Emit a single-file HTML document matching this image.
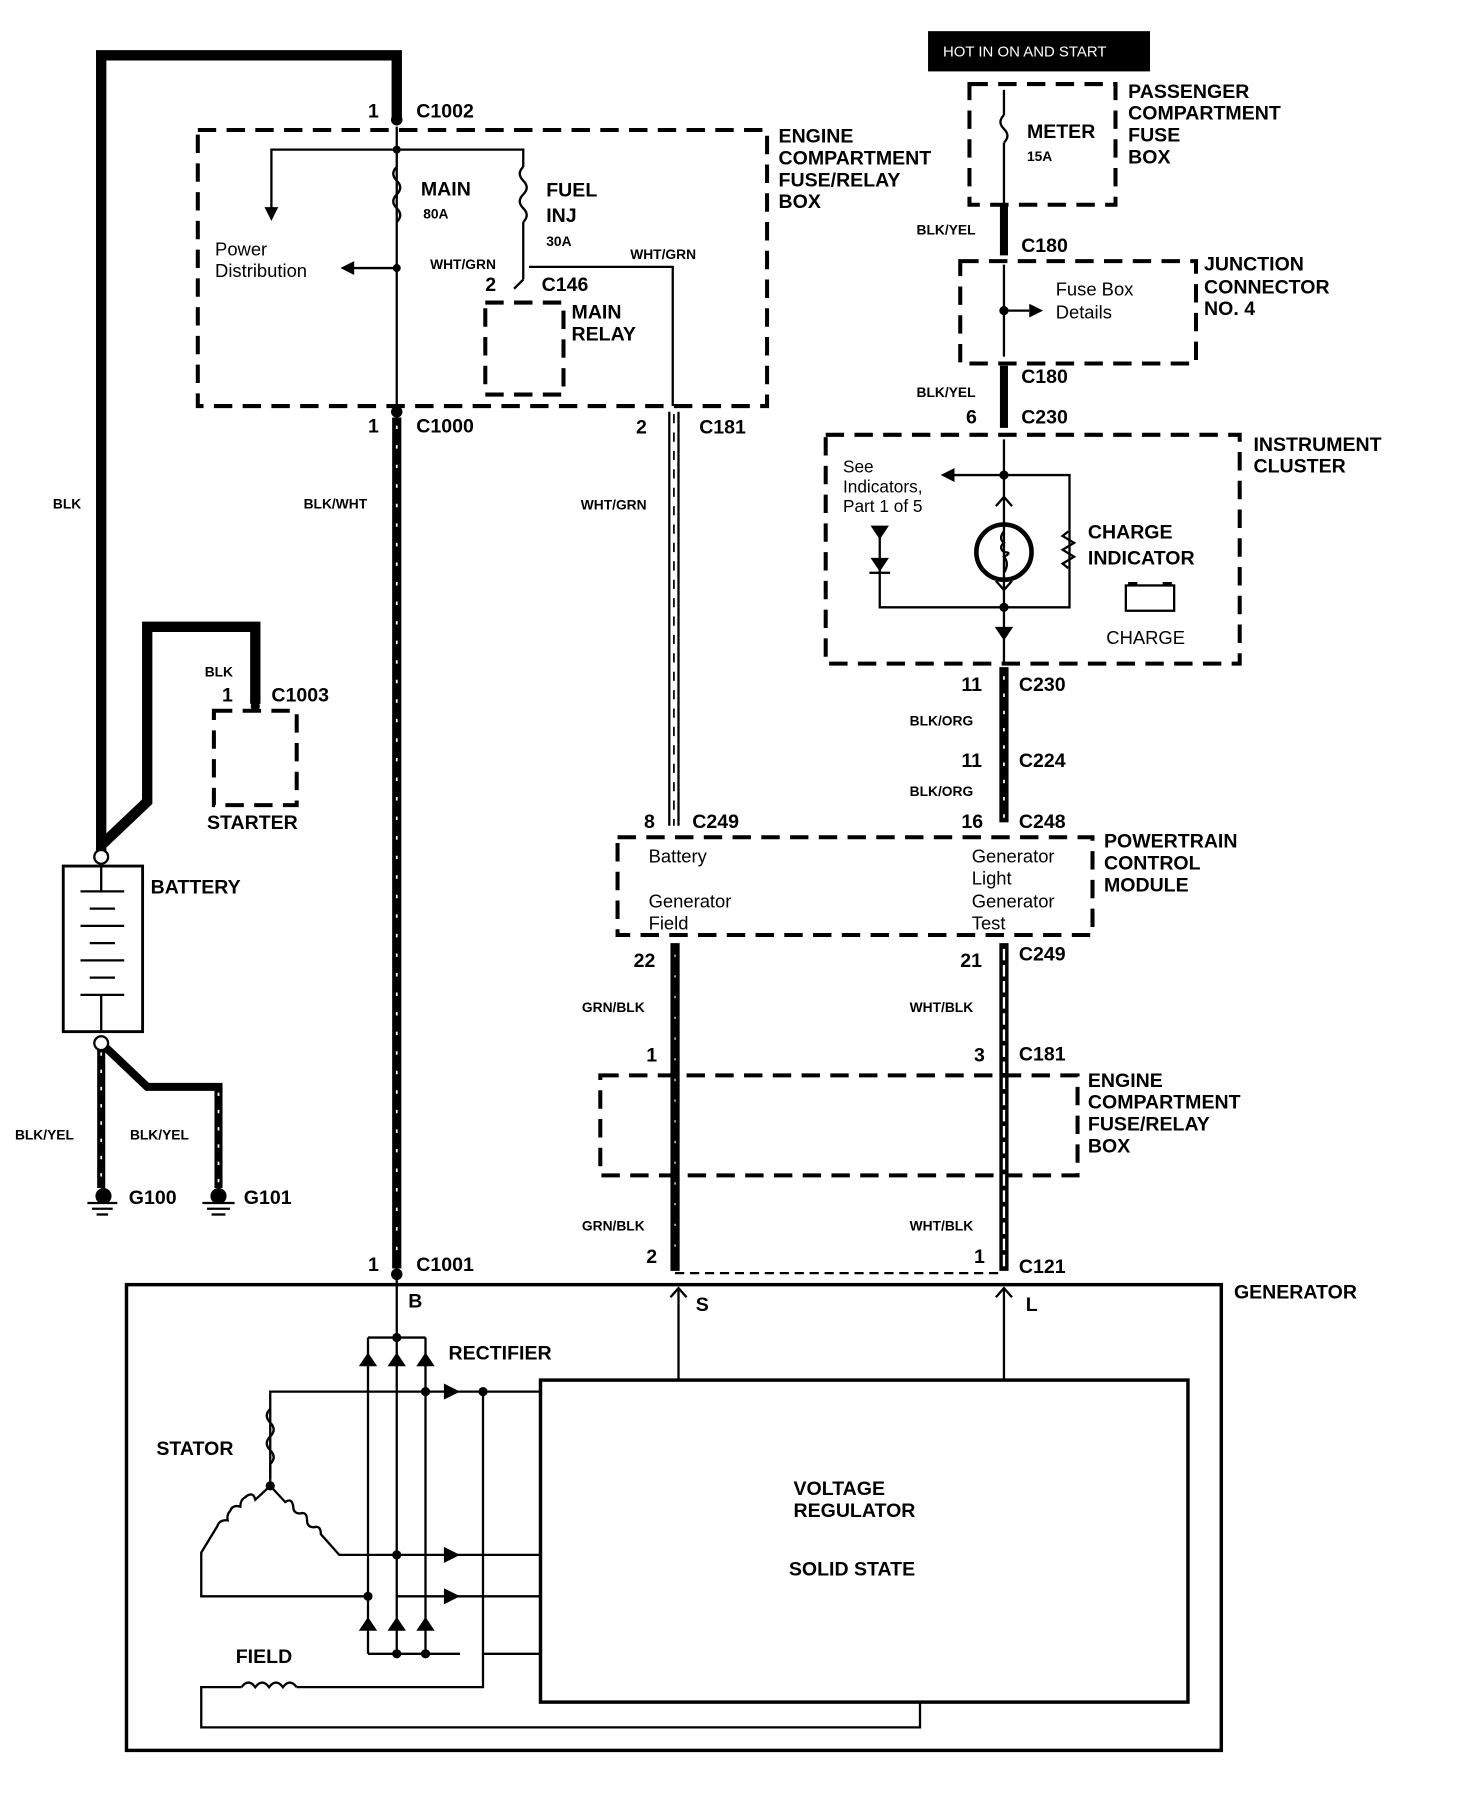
<!DOCTYPE html>
<html><head><meta charset="utf-8"><style>
html,body{margin:0;padding:0;background:#fff}
svg{display:block}
text{font-family:"Liberation Sans",Arial,sans-serif;fill:#000}
.b{font-weight:bold;font-size:17px}
.s{font-weight:bold;font-size:12px}
.n{font-size:16px}
</style></head><body>
<svg width="1472" height="1808" viewBox="0 0 1280 1572" xmlns="http://www.w3.org/2000/svg">
<g fill="none" stroke="#000">
<g stroke-width="3.5" stroke-dasharray="16,9">
<rect x="172" y="113" width="495" height="240"/>
<rect x="422" y="263" width="68" height="80"/>
<rect x="186" y="618" width="72" height="82"/>
<rect x="843" y="73" width="127" height="105"/>
<rect x="835" y="227" width="205" height="89"/>
<rect x="718" y="378" width="360" height="199"/>
<rect x="537" y="728" width="413" height="85"/>
<rect x="522" y="935" width="415" height="87"/>
</g>
<line x1="587" y1="1107" x2="873" y2="1107" stroke-width="2" stroke-dasharray="8,5"/>
<polyline points="88,745 88,48 345,48 345,105" stroke-width="9"/>
<polyline points="88,735 128,697 128,545 222,545 222,612" stroke-width="9"/>
<line x1="88" y1="907" x2="88" y2="1033" stroke-width="7"/>
<polyline points="88,907 128,945 190,945 190,1033" stroke-width="7"/>
<line x1="88" y1="915" x2="88" y2="1033" stroke="#fff" stroke-width="1.5" stroke-dasharray="3,12"/>
<line x1="190" y1="950" x2="190" y2="1033" stroke="#fff" stroke-width="1.5" stroke-dasharray="3,12"/>
<line x1="345" y1="363" x2="345" y2="1103" stroke-width="8"/>
<line x1="345" y1="370" x2="345" y2="1100" stroke="#fff" stroke-width="1.5" stroke-dasharray="3,14"/>
<line x1="345" y1="110" x2="345" y2="353" stroke-width="2"/>
<polyline points="345,130 455,130 455,145" stroke-width="2"/>
<polyline points="345,130 236,130 236,183" stroke-width="2"/>
<line x1="345" y1="233" x2="305" y2="233" stroke-width="2"/>
<path d="M345,145 q-6,6 0,12 q6,6 0,12 q-6,6 0,12 q6,6 0,12 M455,145 q-6,6 0,12 q6,6 0,12 q-6,6 0,12 q6,6 0,12" stroke-width="2"/>
<line x1="455" y1="193" x2="455" y2="243" stroke-width="2"/>
<polyline points="455,243 447,251 M455,243 463,251" stroke-width="2"/>
<polyline points="460,232 585,232 585,353" stroke-width="2"/>
<line x1="582" y1="358" x2="582" y2="718" stroke-width="2"/>
<line x1="590" y1="358" x2="590" y2="718" stroke-width="2"/>
<line x1="586" y1="360" x2="586" y2="718" stroke-width="1.5" stroke-dasharray="8,8"/>
<rect x="55" y="753" width="69" height="144" stroke-width="2.5"/>
<g stroke-width="2"><line x1="70" y1="775" x2="108" y2="775"/><line x1="78" y1="790" x2="100" y2="790"/><line x1="70" y1="805" x2="108" y2="805"/><line x1="78" y1="820" x2="100" y2="820"/><line x1="70" y1="835" x2="108" y2="835"/><line x1="78" y1="850" x2="100" y2="850"/><line x1="70" y1="865" x2="108" y2="865"/><line x1="88" y1="753" x2="88" y2="775"/><line x1="88" y1="865" x2="88" y2="897"/></g>
<g stroke-width="2"><line x1="76" y1="1046" x2="102" y2="1046"/><line x1="80" y1="1051" x2="98" y2="1051"/><line x1="84" y1="1056" x2="94" y2="1056"/>
<line x1="176" y1="1046" x2="204" y2="1046"/><line x1="180" y1="1051" x2="200" y2="1051"/><line x1="184" y1="1056" x2="196" y2="1056"/></g>
<line x1="873" y1="78" x2="873" y2="100" stroke-width="2"/>
<path d="M873,100 q-6,6 0,12 q6,6 0,12" stroke-width="2"/>
<line x1="873" y1="124" x2="873" y2="178" stroke-width="2"/>
<line x1="873" y1="178" x2="873" y2="222" stroke-width="7"/>
<line x1="873" y1="230" x2="873" y2="310" stroke-width="2"/>
<line x1="873" y1="270" x2="895" y2="270" stroke-width="2"/>
<line x1="873" y1="318" x2="873" y2="372" stroke-width="7"/>
<line x1="873" y1="382" x2="873" y2="576" stroke-width="2"/>
<polyline points="830,413 930,413 930,528 765,528 765,465" stroke-width="2"/>
<circle cx="873" cy="480" r="24" stroke-width="4"/>
<path d="M929,462 l-5,4 l10,6 l-10,6 l10,6 l-10,6 l5,4" stroke-width="2"/>
<rect x="979" y="509" width="42" height="22" stroke-width="2"/>
<line x1="873" y1="580" x2="873" y2="715" stroke-width="8"/>
<line x1="873" y1="588" x2="873" y2="712" stroke="#fff" stroke-width="1.5" stroke-dasharray="3,12"/>
<line x1="587" y1="820" x2="587" y2="1105" stroke-width="8"/>
<line x1="873" y1="820" x2="873" y2="1105" stroke-width="8"/>
<line x1="873" y1="825" x2="873" y2="1102" stroke="#fff" stroke-width="2" stroke-dasharray="10,4"/>
<line x1="587" y1="830" x2="587" y2="1100" stroke="#fff" stroke-width="1" stroke-dasharray="2,16"/>
<rect x="110" y="1117" width="952" height="405" stroke-width="3"/>
<rect x="470" y="1200" width="563" height="280" stroke-width="3"/>
<line x1="345" y1="1113" x2="345" y2="1163" stroke-width="2"/>
<line x1="590" y1="1120" x2="590" y2="1200" stroke-width="2"/>
<line x1="873" y1="1120" x2="873" y2="1200" stroke-width="2"/>
<polyline points="583,1128 590,1120 597,1128" stroke-width="2"/>
<polyline points="866,1128 873,1120 880,1128" stroke-width="2"/>
<g stroke-width="2">
<polyline points="320,1163 370,1163"/>
<line x1="320" y1="1163" x2="320" y2="1438"/><line x1="345" y1="1163" x2="345" y2="1438"/><line x1="370" y1="1163" x2="370" y2="1438"/>
<polyline points="320,1438 400,1438"/>
<polyline points="420,1438 470,1438"/>
<polyline points="235,1285 235,1210 470,1210"/>
<polyline points="420,1210 420,1467 258,1467"/>
<polyline points="210,1467 175,1467 175,1502 800,1502 800,1480"/>
<path d="M210,1467 q6,-8 12,0 q6,-8 12,0 q6,-8 12,0 q6,-8 12,0"/>
<path d="M235,1225 q-6,6 0,12 q6,6 0,12 q-6,6 0,12 q6,6 0,12 L235,1292"/>
<path d="M235,1292 L222,1304 q-2,-8 -9,-2 q-4,2 -4,8 q-7,-2 -9,4 q-3,3 -2,8 q-7,-1 -9,5 L175,1350 175,1388 320,1388"/>
<path d="M235,1292 L248,1306 q6,-4 7,4 q0,6 6,6 q6,-2 6,6 q0,6 6,6 q6,-2 6,6 L295,1352 470,1352"/>
<line x1="345" y1="1388" x2="470" y2="1388"/>
</g>
<g fill="#000" stroke="none">
<circle cx="345" cy="104" r="5"/><circle cx="345" cy="358" r="5"/><circle cx="345" cy="1108" r="5"/>
<circle cx="88" cy="745" r="6" fill="#fff" stroke="#000" stroke-width="2"/>
<circle cx="88" cy="907" r="6" fill="#fff" stroke="#000" stroke-width="2"/>
<circle cx="345" cy="130" r="3.5"/><circle cx="345" cy="233" r="3.5"/>
<circle cx="873" cy="413" r="4"/><circle cx="873" cy="528" r="4"/><circle cx="873" cy="270" r="4"/>
<circle cx="345" cy="1163" r="4"/><circle cx="370" cy="1210" r="4"/><circle cx="420" cy="1210" r="4"/>
<circle cx="345" cy="1352" r="4"/><circle cx="320" cy="1388" r="4"/><circle cx="345" cy="1438" r="4"/><circle cx="370" cy="1438" r="4"/><circle cx="235" cy="1292" r="4"/>
<circle cx="90" cy="1040" r="7"/><circle cx="190" cy="1040" r="7"/>
<circle cx="222" cy="614" r="4"/>
<polygon points="230,180 242,180 236,192"/>
<polygon points="308,227 308,239 296,233"/>
<polygon points="830,407 830,419 818,413"/>
<polygon points="895,264 895,276 907,270"/>
<polygon points="757,457 773,457 765,469"/><polygon points="757,485 773,485 765,497"/>
<rect x="756" y="497" width="18" height="2"/>
<polygon points="865,545 881,545 873,557"/>
<polygon points="312,1188 328,1188 320,1176"/><polygon points="337,1188 353,1188 345,1176"/><polygon points="362,1188 378,1188 370,1176"/>
<polygon points="312,1418 328,1418 320,1406"/><polygon points="337,1418 353,1418 345,1406"/><polygon points="362,1418 378,1418 370,1406"/>
<polygon points="386,1203 386,1217 400,1210"/><polygon points="386,1345 386,1359 400,1352"/><polygon points="386,1381 386,1395 400,1388"/>
<rect x="807" y="27" width="193" height="35"/>
<rect x="981" y="506" width="8" height="3"/><rect x="1011" y="506" width="8" height="3"/>
</g>
<path d="M873,462 q-5,6 0,10 q-5,4 0,8 q8,0 0,4 q5,6 0,14" stroke-width="2"/>
<polyline points="866,440 873,432 880,440" stroke-width="2"/>
<polyline points="866,505 873,513 880,505" stroke-width="2"/>
</g>
<text x="820" y="49" style="fill:#fff;font-size:13px">HOT IN ON AND START</text>
<g class="b">
<text x="362" y="102">C1002</text><text x="320" y="102">1</text>
<text x="677" y="124">ENGINE</text><text x="677" y="143">COMPARTMENT</text><text x="677" y="162">FUSE/RELAY</text><text x="677" y="181">BOX</text>
<text x="366" y="170">MAIN</text><text x="475" y="171">FUEL</text><text x="475" y="193">INJ</text>
<text x="471" y="253">C146</text><text x="422" y="253">2</text>
<text x="497" y="277">MAIN</text><text x="497" y="296">RELAY</text>
<text x="320" y="376">1</text><text x="362" y="376">C1000</text>
<text x="553" y="377">2</text><text x="608" y="377">C181</text>
<text x="981" y="85">PASSENGER</text><text x="981" y="104">COMPARTMENT</text><text x="981" y="123">FUSE</text><text x="981" y="142">BOX</text>
<text x="893" y="120">METER</text>
<text x="888" y="219">C180</text><text x="1047" y="235">JUNCTION</text><text x="1047" y="255">CONNECTOR</text><text x="1047" y="274">NO. 4</text>
<text x="888" y="333">C180</text><text x="840" y="368">6</text><text x="888" y="368">C230</text>
<text x="1090" y="392">INSTRUMENT</text><text x="1090" y="411">CLUSTER</text>
<text x="946" y="468">CHARGE</text><text x="946" y="491">INDICATOR</text>
<text x="836" y="601">11</text><text x="886" y="601">C230</text>
<text x="836" y="667">11</text><text x="886" y="667">C224</text>
<text x="836" y="720">16</text><text x="886" y="720">C248</text>
<text x="560" y="720">8</text><text x="602" y="720">C249</text>
<text x="960" y="737">POWERTRAIN</text><text x="960" y="756">CONTROL</text><text x="960" y="775">MODULE</text>
<text x="551" y="841">22</text><text x="835" y="841">21</text><text x="886" y="835">C249</text>
<text x="562" y="923">1</text><text x="847" y="923">3</text><text x="886" y="922">C181</text>
<text x="946" y="945">ENGINE</text><text x="946" y="964">COMPARTMENT</text><text x="946" y="983">FUSE/RELAY</text><text x="946" y="1002">BOX</text>
<text x="562" y="1098">2</text><text x="847" y="1098">1</text><text x="886" y="1107">C121</text>
<text x="320" y="1105">1</text><text x="362" y="1105">C1001</text>
<text x="1073" y="1129">GENERATOR</text>
<text x="355" y="1137">B</text><text x="605" y="1140">S</text><text x="892" y="1140">L</text>
<text x="390" y="1182">RECTIFIER</text><text x="136" y="1265">STATOR</text><text x="205" y="1446">FIELD</text>
<text x="690" y="1300">VOLTAGE</text><text x="690" y="1319">REGULATOR</text><text x="686" y="1370">SOLID STATE</text>
<text x="131" y="777">BATTERY</text><text x="180" y="721">STARTER</text>
<text x="193" y="610">1</text><text x="236" y="610">C1003</text>
<text x="112" y="1047">G100</text><text x="212" y="1047">G101</text>
</g>
<g class="s">
<text x="368" y="190">80A</text><text x="475" y="214">30A</text><text x="893" y="140">15A</text>
<text x="374" y="234">WHT/GRN</text><text x="548" y="225">WHT/GRN</text>
<text x="46" y="442">BLK</text><text x="264" y="442">BLK/WHT</text><text x="505" y="443">WHT/GRN</text>
<text x="178" y="588">BLK</text><text x="797" y="204">BLK/YEL</text><text x="797" y="345">BLK/YEL</text>
<text x="791" y="631">BLK/ORG</text><text x="791" y="692">BLK/ORG</text>
<text x="506" y="880">GRN/BLK</text><text x="791" y="880">WHT/BLK</text>
<text x="506" y="1070">GRN/BLK</text><text x="791" y="1070">WHT/BLK</text>
<text x="13" y="991">BLK/YEL</text><text x="113" y="991">BLK/YEL</text>
</g>
<g class="n">
<text x="187" y="222">Power</text><text x="187" y="241">Distribution</text>
<text x="918" y="257">Fuse Box</text><text x="918" y="277">Details</text>
<text x="733" y="411" style="font-size:15px">See</text><text x="733" y="428" style="font-size:15px">Indicators,</text><text x="733" y="445" style="font-size:15px">Part 1 of 5</text>
<text x="962" y="560">CHARGE</text>
<text x="564" y="750">Battery</text><text x="845" y="750">Generator</text><text x="845" y="769">Light</text>
<text x="564" y="789">Generator</text><text x="564" y="808">Field</text><text x="845" y="789">Generator</text><text x="845" y="808">Test</text>
</g>
</svg>
</body></html>
